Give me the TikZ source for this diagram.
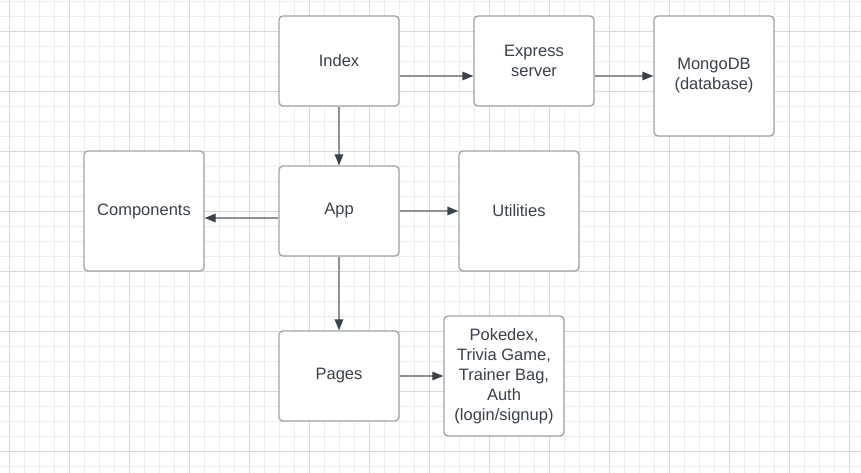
\documentclass[tikz,border=0pt]{standalone}
\usepackage{fontspec}
\setmainfont{Liberation Sans}
\usetikzlibrary{arrows.meta, positioning}
\definecolor{txtgray}{HTML}{3A414A}
\definecolor{boxgray}{HTML}{9FA2A7}
\definecolor{linegray}{HTML}{8E9297}
\definecolor{tipgray}{HTML}{3C4249}
\definecolor{gridminor}{HTML}{EDEDED}
\definecolor{gridmajor}{HTML}{D8D8D8}

\begin{document}
\begin{tikzpicture}[x=1pt, y=-1pt,
    box/.style={draw=boxgray, line width=1.3pt, fill=white, rounded corners=4pt,
                minimum width=120pt, minimum height=90pt, align=center,
                text=txtgray, font=\fontsize{16.5}{20}\selectfont},
    link/.style={draw=linegray, line width=1.3pt,
                 -{Triangle[length=11pt, width=8.5pt, color=tipgray]}}]
            % Paper with grid
            \fill[white] (0,0) rectangle (861,473);
            \useasboundingbox (0,0) rectangle (861,473);
            \begin{scope}
                \clip (0,0) rectangle (861,473);
                \draw[gridminor, line width=0.7pt, step=15pt, shift={(9.3,1)}] (-15,-15) grid (870,480);
                \draw[gridmajor, line width=0.7pt, step=60pt, shift={(9.3,31)}] (-60,-60) grid (870,480);
            \end{scope}
            % Boxes
            \node[box] (index) at (339, 61) {Index};
            \node[box] (express) at (534, 61) {Express\\server};
            \node[box, minimum height=120pt] (mongo) at (714, 76) {MongoDB\\(database)};
            \node[box, minimum height=120pt] (comp) at (144, 211) {Components};
            \node[box] (app) at (339, 211) {App};
            \node[box, minimum height=120pt] (util) at (519, 211) {Utilities};
            \node[box] (pages) at (339, 376) {Pages};
            \node[box, minimum height=120pt] (pdex) at (504, 376)
                  {Pokedex,\\Trivia Game,\\Trainer Bag,\\Auth\\(login/signup)};
            % Arrows
            \draw[link] ([yshift=-15pt]index.east) -- ([yshift=-15pt]express.west);
            \draw[link] ([yshift=-15pt]express.east) -- (mongo.west);
            \draw[link] (index.south) -- (app.north);
            \draw[link] ([yshift=-7pt]app.west) -- ([yshift=-7pt]comp.east);
            \draw[link] (app.east) -- (util.west);
            \draw[link] (app.south) -- (pages.north);
            \draw[link] (pages.east) -- (pdex.west);
        \end{tikzpicture}
\end{document}
